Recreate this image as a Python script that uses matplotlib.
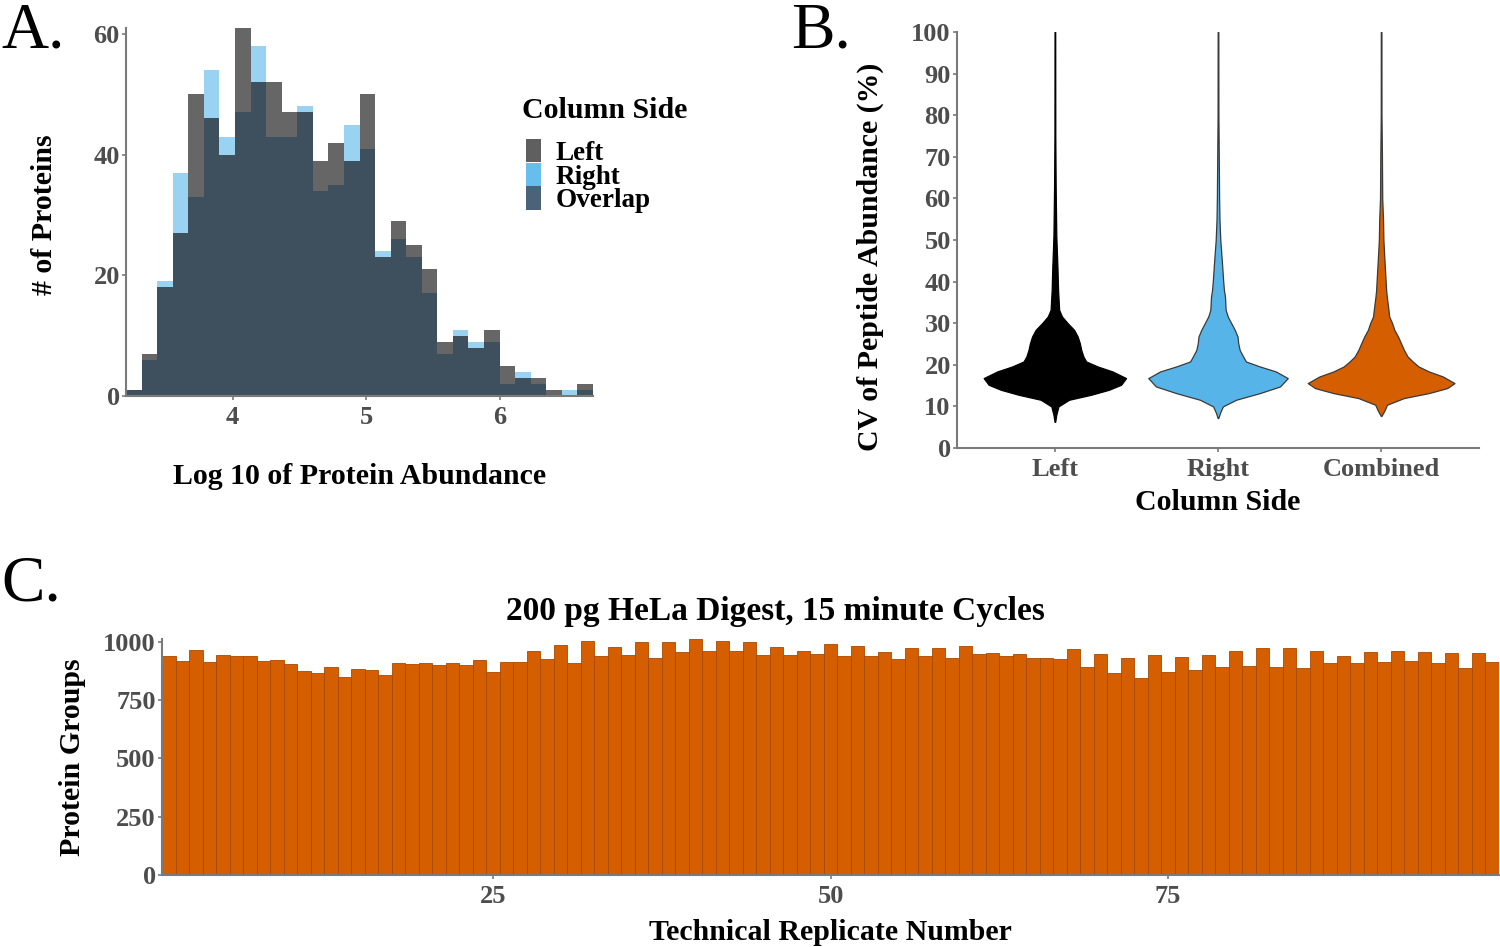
import numpy as np
import matplotlib
matplotlib.use("Agg")
import matplotlib.pyplot as plt
from matplotlib.patches import Patch

plt.rcParams['font.family'] = ['Liberation Serif', 'DejaVu Serif']
plt.rcParams['font.weight'] = 'bold'

# ---------------- Panel A data ----------------
bin_start = 3.2
bin_end = 6.7
left_counts = [1, 7, 18, 27, 50, 46, 40, 61, 52, 52, 47, 47, 39, 42, 39, 50,
               23, 29, 25, 21, 9, 10, 8, 11, 5, 3, 3, 1, 0, 2]
right_counts = [1, 6, 19, 37, 33, 54, 43, 47, 58, 43, 43, 48, 34, 35, 45, 41,
                24, 26, 23, 17, 7, 11, 9, 9, 2, 4, 2, 0, 1, 1]
hist_labels = ["Left", "Right", "Overlap"]

# ---------------- Panel B data ----------------
violin_groups = ["Left", "Right", "Combined"]
left_cv = [6.3, 8, 10, 11.6, 12.8, 14.0, 15.2, 16.8, 18.4, 19.6, 20.8, 22.0, 23.6,
           25.2, 26.8, 28.4, 30.0, 31.6, 33.2, 38, 43, 51, 63, 75, 100]
left_dens = [0, 0.02, 0.05, 0.2, 0.51, 0.76, 0.93, 1.0, 0.81, 0.6, 0.44, 0.40, 0.37,
             0.35, 0.32, 0.27, 0.18, 0.10, 0.06, 0.045, 0.037, 0.02, 0.011, 0.006, 0.004]
right_cv = [7.2, 8.5, 10, 11.6, 13.2, 14.8, 16.8, 18.4, 19.6, 20.8, 22, 23.6, 25.2,
            26.8, 28.4, 30, 31.6, 33.2, 36.4, 38, 40, 45, 50, 55, 60, 70, 80, 100]
right_dens = [0, 0.03, 0.07, 0.26, 0.6, 0.89, 1.0, 0.83, 0.6, 0.4, 0.36, 0.31, 0.29,
              0.28, 0.24, 0.19, 0.14, 0.11, 0.1, 0.085, 0.075, 0.055, 0.033, 0.021,
              0.016, 0.011, 0.006, 0.004]
comb_cv = [7.7, 9, 10.4, 12, 13.2, 14.4, 15.6, 17.2, 18.4, 19.6, 20.8, 22, 23.6, 25.2,
           26.8, 28.4, 30, 31.6, 33.2, 36.4, 38, 40, 45, 50, 55, 60, 70, 75, 80, 100]
comb_dens = [0, 0.045, 0.08, 0.31, 0.65, 0.9, 1.0, 0.84, 0.65, 0.51, 0.43, 0.36, 0.31,
             0.27, 0.23, 0.18, 0.15, 0.11, 0.1, 0.077, 0.068, 0.062, 0.046, 0.031,
             0.026, 0.015, 0.011, 0.008, 0.005, 0.004]
violin_scale = [0.97, 0.95, 1.0]

# ---------------- Panel C data ----------------
protein_groups = [939, 919, 965, 913, 943, 938, 941, 919, 921, 905,
                  875, 868, 892, 848, 884, 878, 856, 911, 905, 909,
                  901, 908, 901, 924, 871, 915, 915, 959, 928, 987,
                  909, 1004, 938, 979, 943, 998, 931, 998, 955, 1012,
                  961, 1004, 959, 999, 943, 978, 943, 961, 948, 989,
                  938, 982, 938, 958, 925, 975, 938, 975, 929, 982,
                  946, 952, 938, 948, 932, 929, 926, 969, 893, 946,
                  865, 929, 846, 942, 869, 933, 881, 942, 891, 959,
                  896, 972, 894, 972, 888, 962, 908, 939, 909, 958,
                  915, 962, 916, 955, 909, 952, 888, 953, 912]
replicates = list(range(1, len(protein_groups) + 1))

# ---------------- Figure ----------------
W, H = 1500, 947
fig = plt.figure(figsize=(15, 9.47), dpi=100)

def ax_rect(l, r, b, t):
    return [l / W, 1 - b / H, (r - l) / W, (b - t) / H]

tick_col = '#4d4d4d'
spine_col = '#7a7a7a'
LAB = 21.5
TCK = 19

def style(ax):
    for s in ['top', 'right']:
        ax.spines[s].set_visible(False)
    for s in ['left', 'bottom']:
        ax.spines[s].set_color(spine_col)
        ax.spines[s].set_linewidth(1.5)
    ax.tick_params(colors=spine_col, labelcolor=tick_col, labelsize=TCK,
                   length=3, width=1.2, pad=1.5)
    for lab in ax.get_xticklabels() + ax.get_yticklabels():
        lab.set_fontweight('bold')

# Panel A
axA = fig.add_axes(ax_rect(126, 593, 396, 28))
nb = len(left_counts)
edges = np.linspace(bin_start, bin_end, nb + 1)
bw = edges[1] - edges[0]
lefts = edges[:-1]
lc = np.array(left_counts); rc = np.array(right_counts)
ov = np.minimum(lc, rc)
axA.bar(lefts, lc, width=bw, align='edge', color='#666666', linewidth=0)
axA.bar(lefts, rc, width=bw, align='edge', color='#9AD3F1', linewidth=0)
axA.bar(lefts[lc > rc], lc[lc > rc], width=bw, align='edge', color='#666666', linewidth=0)
axA.bar(lefts, ov, width=bw, align='edge', color='#3E505E', linewidth=0)
axA.set_xlim(bin_start, bin_end)
axA.set_ylim(0, 61)
axA.set_xticks([4, 5, 6])
axA.set_yticks([0, 20, 40, 60])
style(axA)
axA.tick_params(axis='x', pad=4)
axA.set_xlabel("Log 10 of Protein Abundance", fontsize=LAB, fontweight='bold', labelpad=25)
fig.text(45 / W, 1 - 215 / H, "# of Proteins", rotation=90, fontsize=LAB,
         fontweight='bold', ha='center', va='center')
fig.text(522 / W, 1 - 110 / H, "Column Side", fontsize=LAB, fontweight='bold',
         ha='left', va='center')
handles = [Patch(facecolor=c, edgecolor='none') for c in ['#5f5f5f', '#66bdee', '#4a6378']]
leg = fig.legend(handles, hist_labels, loc='upper left',
                 bbox_to_anchor=(526 / W, 1 - 139 / H), frameon=False,
                 prop={'size': 19.5, 'weight': 'bold'}, handlelength=0.55,
                 handleheight=0.95, labelspacing=-0.12, handletextpad=0.55,
                 borderaxespad=0, borderpad=0)

# Panel B
axB = fig.add_axes(ax_rect(957, 1479, 448, 32))
v_cv = [left_cv, right_cv, comb_cv]
v_d = [left_dens, right_dens, comb_dens]
v_fill = ['#000000', '#56B4E9', '#D55E00']
v_edge = ['#000000', '#3a3a3a', '#3a3a3a']
for i in range(3):
    cv = np.array(v_cv[i]); d = np.array(v_d[i]) * violin_scale[i] * 0.45
    d = np.maximum(d, 0.002)
    axB.fill_betweenx(cv, i + 1 - d, i + 1 + d, facecolor=v_fill[i],
                      edgecolor=v_edge[i], linewidth=0.9)
axB.set_xlim(0.4, 3.6)
axB.set_ylim(0, 100)
axB.set_xticks([1, 2, 3])
axB.set_xticklabels(violin_groups)
axB.set_yticks(range(0, 101, 10))
style(axB)
axB.tick_params(axis='x', pad=4)
axB.set_xlabel("Column Side", fontsize=LAB, fontweight='bold', labelpad=6)
fig.text(870 / W, 1 - 257 / H, "CV of Peptide Abundance (%)", rotation=90,
         fontsize=LAB, fontweight='bold', ha='center', va='center')

# Panel C
axC = fig.add_axes(ax_rect(162, 1499, 875, 639))
axC.bar(replicates, protein_groups, width=1.0, color='#D55E00',
        edgecolor='#A84A00', linewidth=0.6)
axC.set_xlim(0.5, len(replicates) + 0.5)
axC.set_ylim(0, 1012)
axC.set_xticks([25, 50, 75])
axC.set_yticks([0, 250, 500, 750, 1000])
style(axC)
axC.tick_params(axis='x', pad=4)
axC.set_xlabel("Technical Replicate Number", fontsize=LAB, fontweight='bold', labelpad=8)
fig.text(775 / W, 1 - 611 / H, "200 pg HeLa Digest, 15 minute Cycles", fontsize=24,
         fontweight='bold', ha='center', va='center')
fig.text(73 / W, 1 - 757 / H, "Protein Groups", rotation=90, fontsize=LAB,
         fontweight='bold', ha='center', va='center')

# Panel letters
for txt, x, y in [("A.", 1, 2), ("B.", 791, 2), ("C.", 1, 555)]:
    fig.text(x / W, 1 - y / H, txt, fontsize=47, fontweight='normal',
             ha='left', va='top')

fig.savefig("out.png", dpi=100)
